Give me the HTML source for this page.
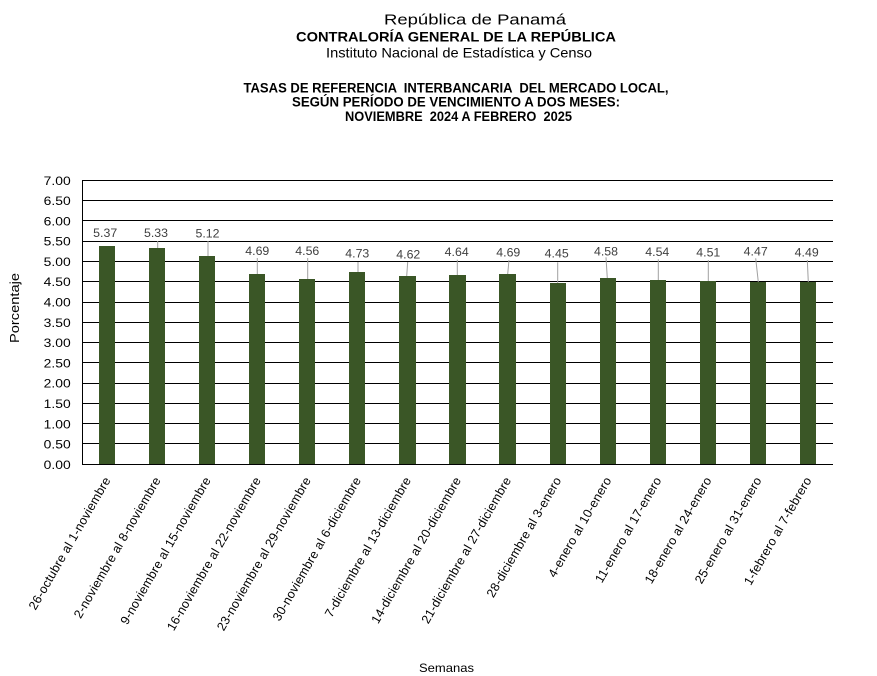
<!DOCTYPE html>
<html>
<head>
<meta charset="utf-8">
<style>
  html,body{margin:0;padding:0;background:#fff;}
  svg{display:block;}
  text{font-family:"Liberation Sans",Arial,sans-serif;white-space:pre;}
</style>
</head>
<body>
<svg width="877" height="676" viewBox="0 0 877 676" xmlns="http://www.w3.org/2000/svg">
  <rect width="877" height="676" fill="#fff"/>

  <!-- Titles -->
  <text x="384" y="24.5" font-size="14.5" textLength="182" lengthAdjust="spacingAndGlyphs" fill="#000">República de Panamá</text>
  <text x="296" y="41.7" font-size="14" font-weight="bold" textLength="320" lengthAdjust="spacingAndGlyphs" fill="#000">CONTRALORÍA GENERAL DE LA REPÚBLICA</text>
  <text x="326" y="57.7" font-size="14" textLength="266" lengthAdjust="spacingAndGlyphs" fill="#000">Instituto Nacional de Estadística y Censo</text>

  <text x="243.5" y="92.7" font-size="13.5" font-weight="bold" textLength="425" lengthAdjust="spacingAndGlyphs" fill="#000">TASAS DE REFERENCIA  INTERBANCARIA  DEL MERCADO LOCAL,</text>
  <text x="292" y="106.7" font-size="13.5" font-weight="bold" textLength="328" lengthAdjust="spacingAndGlyphs" fill="#000">SEGÚN PERÍODO DE VENCIMIENTO A DOS MESES:</text>
  <text x="345" y="121" font-size="13.5" font-weight="bold" textLength="227" lengthAdjust="spacingAndGlyphs" fill="#000">NOVIEMBRE  2024 A FEBRERO  2025</text>

  <!-- Gridlines -->
  <g stroke="#000" stroke-width="1" shape-rendering="crispEdges">
    <line x1="82" y1="180.5" x2="833" y2="180.5"/>
    <line x1="82" y1="200.5" x2="833" y2="200.5"/>
    <line x1="82" y1="220.5" x2="833" y2="220.5"/>
    <line x1="82" y1="241.5" x2="833" y2="241.5"/>
    <line x1="82" y1="261.5" x2="833" y2="261.5"/>
    <line x1="82" y1="281.5" x2="833" y2="281.5"/>
    <line x1="82" y1="302.5" x2="833" y2="302.5"/>
    <line x1="82" y1="322.5" x2="833" y2="322.5"/>
    <line x1="82" y1="342.5" x2="833" y2="342.5"/>
    <line x1="82" y1="362.5" x2="833" y2="362.5"/>
    <line x1="82" y1="383.5" x2="833" y2="383.5"/>
    <line x1="82" y1="403.5" x2="833" y2="403.5"/>
    <line x1="82" y1="423.5" x2="833" y2="423.5"/>
    <line x1="82" y1="443.5" x2="833" y2="443.5"/>
    <line x1="82.5" y1="180" x2="82.5" y2="464.5"/>
  </g>

  <!-- Bars -->
  <g fill="#3A5626" shape-rendering="crispEdges">
    <rect x="99" y="246" width="16" height="218"/>
    <rect x="149" y="248" width="16" height="216"/>
    <rect x="199" y="256" width="16" height="208"/>
    <rect x="249" y="274" width="16" height="190"/>
    <rect x="299" y="279" width="16" height="185"/>
    <rect x="349" y="272" width="16" height="192"/>
    <rect x="399" y="276" width="17" height="188"/>
    <rect x="449" y="275" width="17" height="189"/>
    <rect x="499" y="274" width="17" height="190"/>
    <rect x="550" y="283" width="16" height="181"/>
    <rect x="600" y="278" width="16" height="186"/>
    <rect x="650" y="280" width="16" height="184"/>
    <rect x="700" y="281" width="16" height="183"/>
    <rect x="750" y="282" width="16" height="182"/>
    <rect x="800" y="282" width="16" height="182"/>
  </g>

  <!-- Axis baseline -->
  <line x1="82" y1="464.5" x2="833" y2="464.5" stroke="#000" stroke-width="1" shape-rendering="crispEdges"/>

  <!-- Leader lines -->
  <g stroke="#A0A0A0" stroke-width="1">
    <line x1="157.7" y1="241" x2="157.7" y2="248"/>
    <line x1="208" y1="241" x2="208" y2="256"/>
    <line x1="257.3" y1="258" x2="257.3" y2="274"/>
    <line x1="307.7" y1="258" x2="307.7" y2="279"/>
    <line x1="358" y1="262" x2="358" y2="272"/>
    <line x1="407.7" y1="262" x2="406.7" y2="276"/>
    <line x1="457.3" y1="259.7" x2="457.3" y2="275"/>
    <line x1="509" y1="260" x2="507.7" y2="274"/>
    <line x1="557.7" y1="262.3" x2="557.7" y2="283"/>
    <line x1="606" y1="257.3" x2="607.3" y2="278"/>
    <line x1="658.3" y1="259.3" x2="658.3" y2="280"/>
    <line x1="708.3" y1="260" x2="708.3" y2="281"/>
    <line x1="755.7" y1="258.3" x2="758.3" y2="282"/>
    <line x1="807.3" y1="260" x2="808.3" y2="282"/>
  </g>

  <!-- Value labels -->
  <g font-size="12" fill="#404040" text-anchor="middle">
    <text x="105.2" y="237.2" textLength="24" lengthAdjust="spacingAndGlyphs">5.37</text>
    <text x="156" y="236.9" textLength="24" lengthAdjust="spacingAndGlyphs">5.33</text>
    <text x="207.5" y="237.4" textLength="24" lengthAdjust="spacingAndGlyphs">5.12</text>
    <text x="257.3" y="255.1" textLength="24" lengthAdjust="spacingAndGlyphs">4.69</text>
    <text x="307.3" y="255.1" textLength="24" lengthAdjust="spacingAndGlyphs">4.56</text>
    <text x="357.3" y="257.7" textLength="24" lengthAdjust="spacingAndGlyphs">4.73</text>
    <text x="408.3" y="258.4" textLength="24" lengthAdjust="spacingAndGlyphs">4.62</text>
    <text x="456.7" y="256.1" textLength="24" lengthAdjust="spacingAndGlyphs">4.64</text>
    <text x="508.3" y="256.7" textLength="24" lengthAdjust="spacingAndGlyphs">4.69</text>
    <text x="556.7" y="257.7" textLength="24" lengthAdjust="spacingAndGlyphs">4.45</text>
    <text x="606" y="255.4" textLength="24" lengthAdjust="spacingAndGlyphs">4.58</text>
    <text x="657.3" y="256.1" textLength="24" lengthAdjust="spacingAndGlyphs">4.54</text>
    <text x="708.3" y="256.7" textLength="24" lengthAdjust="spacingAndGlyphs">4.51</text>
    <text x="755.7" y="255.4" textLength="24" lengthAdjust="spacingAndGlyphs">4.47</text>
    <text x="806.7" y="256.7" textLength="24" lengthAdjust="spacingAndGlyphs">4.49</text>
  </g>

  <!-- Y tick labels -->
  <g font-size="11.5" fill="#000">
    <text x="43.7" y="184.8" textLength="27" lengthAdjust="spacingAndGlyphs">7.00</text>
    <text x="43.7" y="205.0" textLength="27" lengthAdjust="spacingAndGlyphs">6.50</text>
    <text x="43.7" y="225.3" textLength="27" lengthAdjust="spacingAndGlyphs">6.00</text>
    <text x="43.7" y="245.6" textLength="27" lengthAdjust="spacingAndGlyphs">5.50</text>
    <text x="43.7" y="265.9" textLength="27" lengthAdjust="spacingAndGlyphs">5.00</text>
    <text x="43.7" y="286.2" textLength="27" lengthAdjust="spacingAndGlyphs">4.50</text>
    <text x="43.7" y="306.5" textLength="27" lengthAdjust="spacingAndGlyphs">4.00</text>
    <text x="43.7" y="326.8" textLength="27" lengthAdjust="spacingAndGlyphs">3.50</text>
    <text x="43.7" y="347.1" textLength="27" lengthAdjust="spacingAndGlyphs">3.00</text>
    <text x="43.7" y="367.4" textLength="27" lengthAdjust="spacingAndGlyphs">2.50</text>
    <text x="43.7" y="387.7" textLength="27" lengthAdjust="spacingAndGlyphs">2.00</text>
    <text x="43.7" y="408.0" textLength="27" lengthAdjust="spacingAndGlyphs">1.50</text>
    <text x="43.7" y="428.3" textLength="27" lengthAdjust="spacingAndGlyphs">1.00</text>
    <text x="43.7" y="448.6" textLength="27" lengthAdjust="spacingAndGlyphs">0.50</text>
    <text x="43.7" y="468.8" textLength="27" lengthAdjust="spacingAndGlyphs">0.00</text>
  </g>

  <!-- X category labels -->
  <g font-size="12.5" fill="#000" text-anchor="end" letter-spacing="0.2">
    <text transform="translate(111,480) rotate(-60)">26-octubre al 1-noviembre</text>
    <text transform="translate(161.1,480) rotate(-60)">2-noviembre al 8-noviembre</text>
    <text transform="translate(211.2,480) rotate(-60)">9-noviembre al 15-noviembre</text>
    <text transform="translate(261.3,480) rotate(-60)">16-noviembre al 22-noviembre</text>
    <text transform="translate(311.3,480) rotate(-60)">23-noviembre al 29-noviembre</text>
    <text transform="translate(361.4,480) rotate(-60)">30-noviembre al 6-diciembre</text>
    <text transform="translate(411.5,480) rotate(-60)">7-diciembre al 13-diciembre</text>
    <text transform="translate(461.5,480) rotate(-60)">14-diciembre al 20-diciembre</text>
    <text transform="translate(511.6,480) rotate(-60)">21-diciembre al 27-diciembre</text>
    <text transform="translate(561.7,480) rotate(-60)">28-diciembre al 3-enero</text>
    <text transform="translate(611.8,480) rotate(-60)">4-enero al 10-enero</text>
    <text transform="translate(661.8,480) rotate(-60)">11-enero al 17-enero</text>
    <text transform="translate(711.9,480) rotate(-60)">18-enero al 24-enero</text>
    <text transform="translate(762,480) rotate(-60)">25-enero al 31-enero</text>
    <text transform="translate(812,480) rotate(-60)">1-febrero al 7-febrero</text>
  </g>

  <!-- Axis titles -->
  <text transform="translate(19,308) rotate(-90)" font-size="12.5" text-anchor="middle" textLength="70" lengthAdjust="spacingAndGlyphs" fill="#000">Porcentaje</text>
  <text x="419" y="672" font-size="12" textLength="55" lengthAdjust="spacingAndGlyphs" fill="#000">Semanas</text>
</svg>
</body>
</html>
